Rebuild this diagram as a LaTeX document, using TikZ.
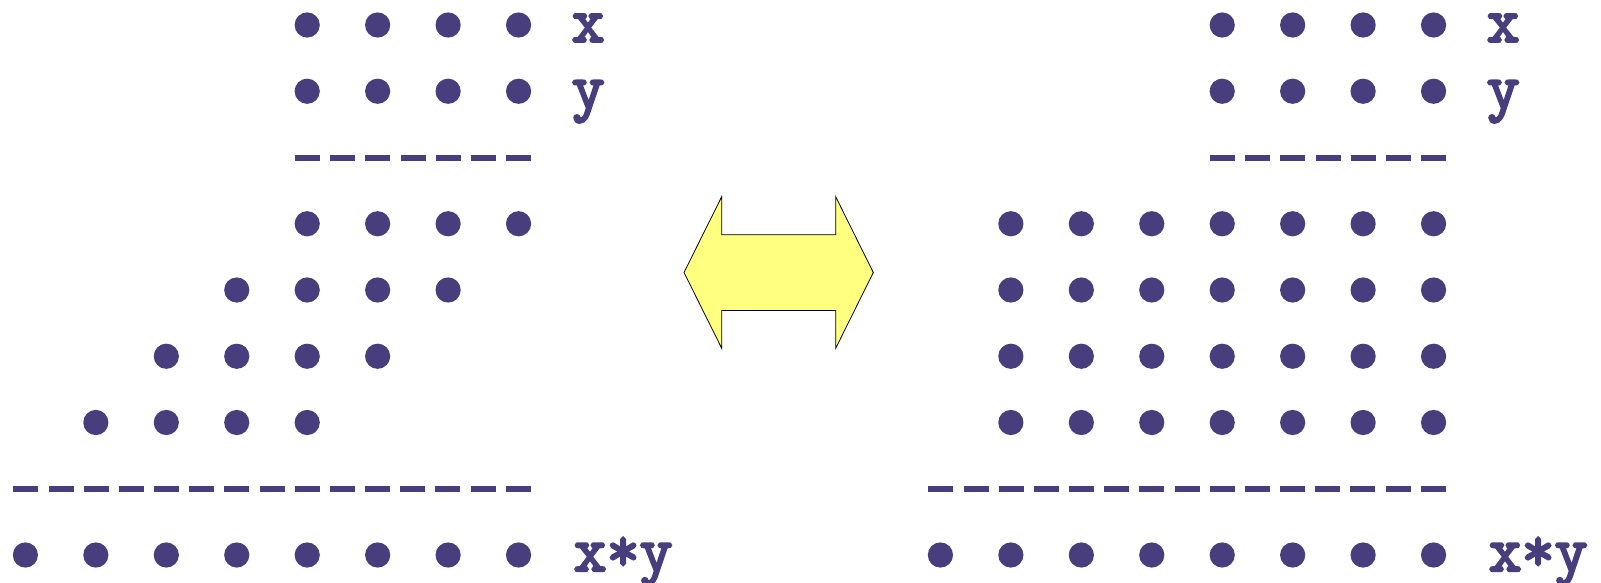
\documentclass[tikz,border=0pt]{standalone}
\usepackage{fontspec}
\newfontfamily\labelfont{Latin Modern Mono}[FakeBold=3.5]
\definecolor{dotcol}{RGB}{72,62,126}
\definecolor{arrowfill}{RGB}{255,255,128}
\tikzset{
  dotmark/.style={fill=dotcol, draw=none},
  dashrow/.style={draw=dotcol, line width=6pt, dash pattern=on 25pt off 10.17pt},
  lbl/.style={anchor=base west, inner sep=0pt, text=dotcol, font=\labelfont\fontsize{64}{66}\selectfont},
  bigarrow/.style={draw=black, line width=0.8pt, fill=arrowfill, line join=miter}
}
\begin{document}
\begin{tikzpicture}[x=1pt,y=-1pt]
\useasboundingbox (0,0) rectangle (1601,583);
% ---- left group ----
\begin{scope}
  \foreach \r in {0,1,3}{\foreach \k in {4,...,7}{\fill[dotmark] ({25.4+70.45*\k},{25+66.25*\r}) circle (12.6);}}
  \foreach \k in {3,...,6}{\fill[dotmark] ({25.4+70.45*\k},{25+66.25*4}) circle (12.6);}
  \foreach \k in {2,...,5}{\fill[dotmark] ({25.4+70.45*\k},{25+66.25*5}) circle (12.6);}
  \foreach \k in {1,...,4}{\fill[dotmark] ({25.4+70.45*\k},{25+66.25*6}) circle (12.6);}
  \foreach \k in {0,...,7}{\fill[dotmark] ({25.4+70.45*\k},{25+66.25*8}) circle (12.6);}
  \coordinate (lta) at (295,157.6);
  \coordinate (ltb) at (531,157.6);
  \coordinate (lba) at (13.4,488.8);
  \coordinate (lbb) at (531,488.8);
  \draw[dashrow] (lta) -- (ltb);
  \draw[dashrow] (lba) -- (lbb);
  \node[lbl] (lx) at (571.5,41.8) {x};
  \node[lbl] (ly) at (571.5,108.2) {y};
  \node[lbl] (lxy) at (573.5,571) {x*y};
\end{scope}
% ---- right group ----
\begin{scope}[xshift=915pt]
  \foreach \r in {0,1}{\foreach \k in {4,...,7}{\fill[dotmark] ({25.4+70.45*\k},{25+66.25*\r}) circle (12.6);}}
  \foreach \r in {3,...,6}{\foreach \k in {1,...,7}{\fill[dotmark] ({25.4+70.45*\k},{25+66.25*\r}) circle (12.6);}}
  \foreach \k in {0,...,7}{\fill[dotmark] ({25.4+70.45*\k},{25+66.25*8}) circle (12.6);}
  \coordinate (rta) at (295,157.6);
  \coordinate (rtb) at (531,157.6);
  \coordinate (rba) at (13.4,488.8);
  \coordinate (rbb) at (531,488.8);
  \draw[dashrow] (rta) -- (rtb);
  \draw[dashrow] (rba) -- (rbb);
  \node[lbl] (rx) at (571.5,41.8) {x};
  \node[lbl] (ry) at (571.5,108.2) {y};
  \node[lbl] (rxy) at (573.5,571) {x*y};
\end{scope}
% ---- double arrow ----
\draw[bigarrow] (684,272.5) -- (721.7,196.7) -- (721.7,234.8) -- (835.7,234.8) -- (835.7,196.7)
  -- (873.3,272.5) -- (835.7,348.3) -- (835.7,310.4) -- (721.7,310.4) -- (721.7,348.3) -- cycle;
\end{tikzpicture}
\end{document}
